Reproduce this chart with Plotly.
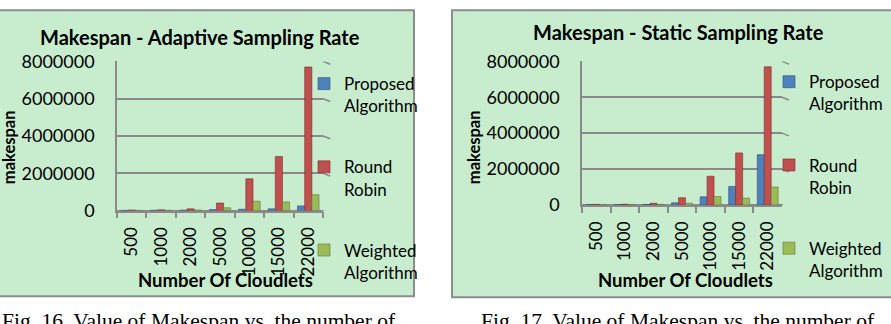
import plotly.graph_objects as go

W, H = 891, 324

categories = ["500", "1000", "2000", "5000", "10000", "15000", "22000"]
series_names = ["Proposed<br>Algorithm", "Round<br>Robin", "Weighted<br>Algorithm"]

adaptive_proposed = [10000, 15000, 25000, 50000, 70000, 90000, 250000]
adaptive_round_robin = [30000, 40000, 90000, 400000, 1700000, 2900000, 7700000]
adaptive_weighted = [10000, 15000, 30000, 150000, 500000, 460000, 850000]

static_proposed = [10000, 15000, 25000, 120000, 450000, 1030000, 2800000]
static_round_robin = [30000, 40000, 90000, 400000, 1600000, 2900000, 7700000]
static_weighted = [10000, 15000, 30000, 100000, 470000, 380000, 1000000]

y_ticks = [0, 2000000, 4000000, 6000000, 8000000]

colors = ["#4F81BD", "#C0504D", "#9BBB59"]
edge_colors = ["#2C4D75", "#772C2A", "#5F7530"]
panel_bg = "#C8ECCE"
grid_col = "#8A8A8A"
font_fam = "Lato"


def px(x):
    return x / W


def py(y):
    return 1 - y / H


fig = go.Figure()

charts = [
    dict(xa="x", ya="y", legend="legend",
         data=[adaptive_proposed, adaptive_round_robin, adaptive_weighted]),
    dict(xa="x2", ya="y2", legend="legend2",
         data=[static_proposed, static_round_robin, static_weighted]),
]

for ci, ch in enumerate(charts):
    for si, vals in enumerate(ch["data"]):
        fig.add_trace(go.Bar(
            x=categories, y=vals, name=series_names[si],
            marker=dict(color=colors[si], line=dict(color=edge_colors[si], width=0.6)),
            xaxis=ch["xa"], yaxis=ch["ya"], legend=ch["legend"],
            legendgroup=f"g{ci}{si}", showlegend=True,
        ))

axis_common_x = dict(
    type="category", showgrid=False, showline=True, linecolor=grid_col, linewidth=1.5,
    ticks="outside", tickson="boundaries", ticklen=6, tickcolor=grid_col, tickwidth=1.5,
    tickangle=-90, tickfont=dict(family=font_fam, size=17, color="#000"),
    ticklabelstandoff=8, fixedrange=True,
)
axis_common_y = dict(
    range=[0, 8000000], tickvals=y_ticks, ticktext=[str(v) for v in y_ticks],
    showgrid=True, gridcolor=grid_col, gridwidth=1.5, showline=True, linecolor=grid_col,
    linewidth=1.5, zeroline=True, zerolinecolor=grid_col, zerolinewidth=1.5,
    tickfont=dict(family=font_fam, size=18, color="#000"), ticks="", ticklabelstandoff=17,
    fixedrange=True,
)

legend_common = dict(xanchor="left", yanchor="top", bgcolor="rgba(0,0,0,0)",
                     font=dict(family=font_fam, size=17, color="#000"),
                     tracegroupgap=36, valign="top", itemclick=False)

fig.update_layout(
    width=W, height=H, autosize=False,
    margin=dict(l=0, r=0, t=0, b=0),
    paper_bgcolor="white", plot_bgcolor="rgba(0,0,0,0)",
    barmode="group", bargap=0.27, bargroupgap=0.0,
    xaxis=dict(domain=[px(117), px(323)], anchor="y", **axis_common_x),
    yaxis=dict(domain=[py(213), py(53)], anchor="x", **axis_common_y),
    xaxis2=dict(domain=[px(582), px(782)], anchor="y2", **axis_common_x),
    yaxis2=dict(domain=[py(207), py(53)], anchor="x2", **axis_common_y),
    legend=dict(x=px(304), y=py(58), **legend_common),
    legend2=dict(x=px(769), y=py(56), **legend_common),
    showlegend=True,
)

shapes = [
    dict(type="rect", xref="paper", yref="paper", x0=px(-2), x1=px(414), y0=py(305), y1=py(-2),
         fillcolor=panel_bg, line=dict(color="#8C8C8C", width=2), layer="below"),
    dict(type="rect", xref="paper", yref="paper", x0=px(452), x1=px(895), y0=py(306), y1=py(-2),
         fillcolor=panel_bg, line=dict(color="#8C8C8C", width=2), layer="below"),
]
# perspective marks at the right end of gridlines (3D look)
for xa, ya in [("x", "y"), ("x2", "y2")]:
    for v in y_ticks:
        shapes.append(dict(type="line", xref=f"{xa} domain", yref=ya, x0=1.0, x1=1.035,
                           y0=v, y1=v - 150000, line=dict(color=grid_col, width=1.5)))
fig.update_layout(shapes=shapes)

ann = []
def text(x, y, s, size=17, bold=False, angle=0, xanchor="center", family=font_fam):
    ann.append(dict(x=px(x), y=py(y), xref="paper", yref="paper", text=f"<b>{s}</b>" if bold else s,
                    showarrow=False, textangle=angle, xanchor=xanchor, yanchor="middle",
                    font=dict(family=family, size=size, color="#000")))

text(200, 27, "Makespan - Adaptive Sampling Rate", size=20, bold=True)
text(678, 21, "Makespan - Static Sampling Rate", size=20, bold=True)
text(225, 288, "Number Of Cloudlets", size=18.5, bold=True)
text(685, 288, "Number Of Cloudlets", size=18.5, bold=True)
text(9, 145, "makespan", size=16.5, bold=True, angle=-90)
text(474, 145, "makespan", size=16.5, bold=True, angle=-90)
text(0, 331, "Fig. 16. Value of Makespan vs. the number of", size=21.5, xanchor="left",
     family="Liberation Serif")
text(479, 331, "Fig. 17. Value of Makespan vs. the number of", size=21.5, xanchor="left",
     family="Liberation Serif")
fig.update_layout(annotations=ann)

fig.write_html("out.html")
